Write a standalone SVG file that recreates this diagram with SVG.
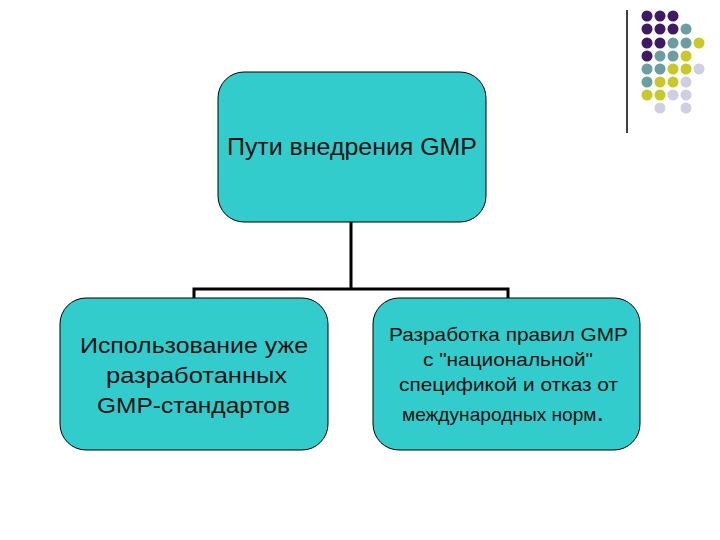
<svg xmlns="http://www.w3.org/2000/svg" width="720" height="540" viewBox="0 0 720 540">
<style>
.box{fill:#33CCCC;stroke:#000;stroke-width:1}
.t{font-family:"Liberation Sans",Arial,sans-serif;fill:#111}
.c{fill:none;stroke:#000;stroke-width:3}
.p{fill:#3D1A63}.g{fill:#6B9EA0}.y{fill:#C8C82A}.l{fill:#CFCFE3}
</style>
<rect width="720" height="540" fill="#fff"/>
<g id="decor">
<line x1="627" y1="10" x2="627" y2="133" stroke="#000" stroke-width="1.5"/>
<circle class="p" cx="647" cy="16" r="5.5"/><circle class="p" cx="660" cy="16" r="5.5"/><circle class="p" cx="673" cy="16" r="5.5"/>
<circle class="p" cx="647" cy="29" r="5.5"/><circle class="p" cx="660" cy="29" r="5.5"/><circle class="p" cx="673" cy="29" r="5.5"/><circle class="g" cx="686" cy="29" r="5.5"/>
<circle class="p" cx="647" cy="43" r="5.5"/><circle class="p" cx="660" cy="43" r="5.5"/><circle class="g" cx="673" cy="43" r="5.5"/><circle class="g" cx="686" cy="43" r="5.5"/><circle class="y" cx="699" cy="43" r="5.5"/>
<circle class="p" cx="647" cy="56" r="5.5"/><circle class="g" cx="660" cy="56" r="5.5"/><circle class="g" cx="673" cy="56" r="5.5"/><circle class="y" cx="686" cy="56" r="5.5"/>
<circle class="g" cx="647" cy="69" r="5.5"/><circle class="g" cx="660" cy="69" r="5.5"/><circle class="y" cx="673" cy="69" r="5.5"/><circle class="y" cx="686" cy="69" r="5.5"/><circle class="l" cx="699" cy="69" r="5.5"/>
<circle class="g" cx="647" cy="82" r="5.5"/><circle class="y" cx="660" cy="82" r="5.5"/><circle class="y" cx="673" cy="82" r="5.5"/><circle class="l" cx="686" cy="82" r="5.5"/>
<circle class="y" cx="647" cy="95" r="5.5"/><circle class="y" cx="660" cy="95" r="5.5"/><circle class="l" cx="673" cy="95" r="5.5"/><circle class="l" cx="686" cy="95" r="5.5"/>
<circle class="l" cx="660" cy="108" r="5.5"/><circle class="l" cx="686" cy="108" r="5.5"/>
</g>
<g id="connectors">
<path class="c" d="M351,222 V289 M194,298 V289 H508 V298"/>
</g>
<g id="root">
<rect class="box" x="218" y="72" width="268" height="150" rx="26"/>
<text class="t" x="227" y="155" font-size="24" textLength="250" lengthAdjust="spacingAndGlyphs">Пути внедрения GMP</text>
</g>
<g id="left">
<rect class="box" x="60" y="298" width="268" height="152" rx="26"/>
<text class="t" x="80" y="353" font-size="22" textLength="228" lengthAdjust="spacingAndGlyphs">Использование уже</text>
<text class="t" x="106" y="383" font-size="22" textLength="181" lengthAdjust="spacingAndGlyphs">разработанных</text>
<text class="t" x="97" y="413" font-size="22" textLength="193" lengthAdjust="spacingAndGlyphs">GMP-стандартов</text>
</g>
<g id="right">
<rect class="box" x="373" y="298" width="267" height="152" rx="26"/>
<text class="t" x="389" y="341" font-size="18.5" textLength="239" lengthAdjust="spacingAndGlyphs">Разработка правил GMP</text>
<text class="t" x="423" y="366" font-size="18.5" textLength="170" lengthAdjust="spacingAndGlyphs">с "национальной"</text>
<text class="t" x="399" y="391" font-size="18.5" textLength="219" lengthAdjust="spacingAndGlyphs">спецификой и отказ от</text>
<text class="t" x="402" y="421" font-size="18.5" textLength="202" lengthAdjust="spacingAndGlyphs">международных норм<tspan font-size="26">.</tspan></text>
</g>
</svg>
